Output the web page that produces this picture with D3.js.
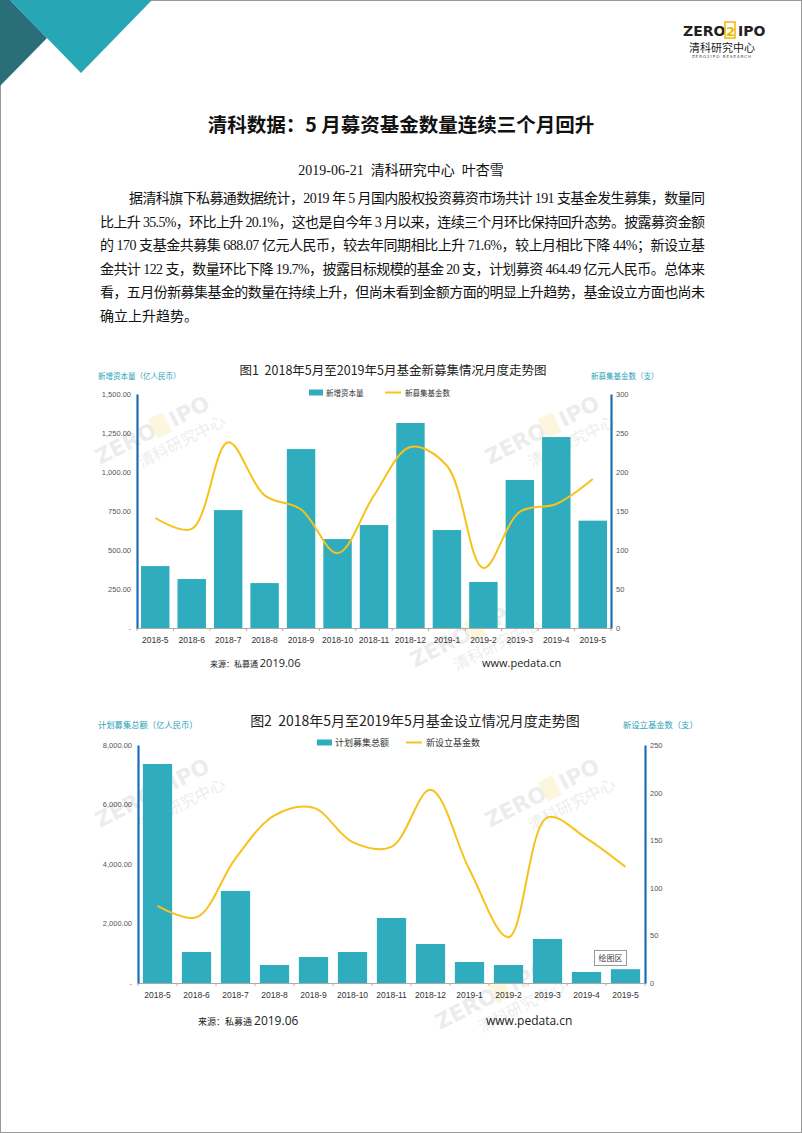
<!DOCTYPE html>
<html><head><meta charset="utf-8">
<script src="https://cdn.jsdelivr.net/npm/d3@7"></script>
<style>body{margin:0;background:#fff}svg{display:block}text{white-space:pre}</style>
</head><body><svg id="c" width="802" height="1133"></svg>
<script>
const months = ["2018-5","2018-6","2018-7","2018-8","2018-9","2018-10","2018-11","2018-12","2019-1","2019-2","2019-3","2019-4","2019-5"];
// Chart 1
const newCapital = [397,314,756,288,1147,570,660,1314,628,295,949,1224,688.07];
const newFundsRaising = [141,127,238,170,152,96,170,232,208,77,149,159,191];
const c1LeftTicks = [0,250,500,750,1000,1250,1500];
const c1RightTicks = [0,50,100,150,200,250,300];
// Chart 2
const plannedTotal = [7361,1042,3092,605,874,1042,2185,1311,706,605,1479,370,464.49];
const newFundsSetup = [81,69,131,176,184,148,143,203,119,48,174,152,122];
const c2LeftTicks = [0,2000,4000,6000,8000];
const c2RightTicks = [0,50,100,150,200,250];
const paragraph = [
 "据清科旗下私募通数据统计，2019 年 5 月国内股权投资募资市场共计 191 支基金发生募集，数量同",
 "比上升 35.5%，环比上升 20.1%，这也是自今年 3 月以来，连续三个月环比保持回升态势。披露募资金额",
 "的 170 支基金共募集 688.07 亿元人民币，较去年同期相比上升 71.6%，较上月相比下降 44%；新设立基",
 "金共计 122 支，数量环比下降 19.7%，披露目标规模的基金 20 支，计划募资 464.49 亿元人民币。总体来",
 "看，五月份新募集基金的数量在持续上升，但尚未看到金额方面的明显上升趋势，基金设立方面也尚未",
 "确立上升趋势。"
];

const svg = d3.select("#c");
const CJK = "'Noto Sans CJK SC','Noto Sans',sans-serif";
const SERIF = "'Liberation Serif','Noto Sans CJK SC',serif";
const TEAL = "#2fadbe", YEL = "#f7c21a", AXB = "#1d6db5", LBL = "#2aa3b6";

svg.append("rect").attr("x",0.5).attr("y",0.5).attr("width",801).attr("height",1132).attr("fill","none").attr("stroke","#999");
svg.append("polygon").attr("points","0,0 10,0 47,38 0,86").attr("fill","#2a6e7a");
svg.append("polygon").attr("points","10,0 152,0 81,73").attr("fill","#27a7b5");

// logo
const logo = svg.append("g").attr("font-family","'DejaVu Sans',sans-serif");
logo.append("text").attr("x",683).attr("y",36).attr("font-size",14).attr("font-weight","bold").attr("fill","#222").text("ZERO");
logo.append("rect").attr("x",725).attr("y",22).attr("width",10).attr("height",16).attr("fill","none").attr("stroke","#f0b800").attr("stroke-width",1.5);
logo.append("text").attr("x",726).attr("y",35.5).attr("font-size",13).attr("font-weight","bold").attr("fill","#f0b800").text("2");
logo.append("text").attr("x",738).attr("y",36).attr("font-size",14).attr("font-weight","bold").attr("fill","#222").text("IPO");
logo.append("text").attr("x",722).attr("y",52).attr("text-anchor","middle").attr("font-size",11).attr("font-family",CJK).attr("fill","#222").text("清科研究中心");
logo.append("text").attr("x",722).attr("y",58).attr("text-anchor","middle").attr("font-size",4).attr("letter-spacing",1).attr("fill","#444").text("ZERO2IPO RESEARCH");

svg.append("text").attr("x",401).attr("y",132).attr("text-anchor","middle").attr("font-family",CJK).attr("font-weight","bold").attr("font-size",19.5).attr("fill","#111").text("清科数据：5 月募资基金数量连续三个月回升");
svg.append("text").attr("x",401).attr("y",175).attr("text-anchor","middle").attr("font-family",SERIF).attr("font-size",14).attr("fill","#111").text("2019-06-21  清科研究中心  叶杏雪");

paragraph.forEach((s,i)=>{
  const t = svg.append("text").attr("x", i===0?129:100).attr("y",203+i*23.6).attr("font-family",SERIF).attr("font-size",14).attr("fill","#111").text(s);
  if(i<paragraph.length-1){ t.attr("textLength", i===0?576:605).attr("lengthAdjust","spacing"); }
});

// faint watermarks
function watermark(x,y){
  const g = svg.append("g").attr("transform",`translate(${x},${y}) rotate(-27) scale(0.72)`).attr("opacity",0.13);
  g.append("text").attr("x",0).attr("y",0).attr("font-family","'DejaVu Sans',sans-serif").attr("font-size",30).attr("font-weight","bold").attr("fill","#777").text("ZERO");
  g.append("rect").attr("x",88).attr("y",-26).attr("width",22).attr("height",30).attr("fill","#f0c000");
  g.append("text").attr("x",115).attr("y",0).attr("font-family","'DejaVu Sans',sans-serif").attr("font-size",30).attr("font-weight","bold").attr("fill","#777").text("IPO");
  g.append("text").attr("x",50).attr("y",30).attr("font-family",CJK).attr("font-size",22).attr("fill","#777").text("清科研究中心");
}
[[100,465],[490,465],[415,668],[100,828],[490,828],[440,1030]].forEach(d=>watermark(d[0],d[1]));

function drawChart(o){
  const g = svg.append("g");
  const x = d3.scaleBand().domain(months).range([o.x0,o.x1]).paddingInner(o.pad).paddingOuter(o.pad/2);
  const yl = d3.scaleLinear().domain([0,o.lmax]).range([o.y1,o.y0]);
  const yr = d3.scaleLinear().domain([0,o.rmax]).range([o.y1,o.y0]);
  g.append("text").attr("x",o.tx).attr("y",o.ty).attr("text-anchor","middle").attr("font-family",CJK).attr("font-size",o.tfs).attr("fill","#222").text(o.title);
  g.append("text").attr("x",o.lx).attr("y",o.ly).attr("font-family",CJK).attr("font-size",o.afs).attr("fill",LBL).text(o.ltitle);
  g.append("text").attr("x",o.rx).attr("y",o.ly).attr("font-family",CJK).attr("font-size",o.afs).attr("fill",LBL).text(o.rtitle);
  // legend
  g.append("rect").attr("x",o.leg[0]).attr("y",o.legy-3.5).attr("width",o.leg[1]-o.leg[0]).attr("height",6).attr("fill",TEAL);
  g.append("text").attr("x",o.leg[2]).attr("y",o.legy+3).attr("font-family",CJK).attr("font-size",o.lfs).attr("fill","#333").text(o.n1);
  g.append("line").attr("x1",o.leg[3]).attr("x2",o.leg[4]).attr("y1",o.legy-0.5).attr("y2",o.legy-0.5).attr("stroke",YEL).attr("stroke-width",2);
  g.append("text").attr("x",o.leg[5]).attr("y",o.legy+3).attr("font-family",CJK).attr("font-size",o.lfs).attr("fill","#333").text(o.n2);
  // bars
  g.selectAll(".bar").data(months).join("rect")
    .attr("x",d=>x(d)).attr("width",x.bandwidth())
    .attr("y",(d,i)=>yl(o.bars[i])).attr("height",(d,i)=>o.y1-yl(o.bars[i])).attr("fill",TEAL);
  const line = d3.line().x((d,i)=>x(months[i])+x.bandwidth()/2).y(d=>yr(d)).curve(d3.curveCatmullRom.alpha(0.5));
  g.append("path").attr("d",line(o.line)).attr("fill","none").attr("stroke",YEL).attr("stroke-width",2);
  // x axis
  const xa = g.append("g").attr("transform",`translate(0,${o.y1})`).call(d3.axisBottom(x).tickSize(0).tickPadding(9));
  xa.select(".domain").attr("stroke","#aaa");
  xa.selectAll("text").attr("font-family","'Liberation Sans',Arial,sans-serif").attr("font-size",8.5).attr("fill","#333");
  const step = x.step();
  d3.range(months.length+1).forEach(i=>{
    const xx = o.x0 + i*step;
    g.append("line").attr("x1",xx).attr("x2",xx).attr("y1",o.y1).attr("y2",o.y1+3).attr("stroke",o.tickc);
  });
  const la = g.append("g").attr("transform",`translate(${o.x0},0)`).call(d3.axisLeft(yl).tickValues(o.lticks).tickSize(0).tickPadding(6).tickFormat(d=>d===0?"-":d3.format(",.2f")(d)));
  la.select(".domain").attr("stroke",AXB).attr("stroke-width",2.2);
  la.selectAll("text").attr("font-family","'Liberation Sans',Arial,sans-serif").attr("font-size",7.5).attr("fill",d=>d===0?"#c55":"#555");
  const ra = g.append("g").attr("transform",`translate(${o.x1},0)`).call(d3.axisRight(yr).tickValues(o.rticks).tickSize(0).tickPadding(5));
  ra.select(".domain").attr("stroke",AXB).attr("stroke-width",2.2);
  ra.selectAll("text").attr("font-family","'Liberation Sans',Arial,sans-serif").attr("font-size",7.5).attr("fill","#555");
  // source
  const s = g.append("text").attr("x",o.srcx).attr("y",o.srcy).attr("font-family",CJK).attr("fill","#222");
  s.append("tspan").attr("font-size",o.sfs[0]).text("来源：私募通 ");
  s.append("tspan").attr("font-size",o.sfs[1]).attr("font-family","'Open Sans','Liberation Sans',sans-serif").text("2019.06");
  g.append("text").attr("x",o.webx).attr("y",o.srcy).attr("font-family","'Open Sans','Liberation Sans',sans-serif").attr("font-size",o.sfs[1]).attr("fill","#222").text("www.pedata.cn");
}

drawChart({x0:137,x1:611,y0:394,y1:628,pad:0.22,lmax:1500,rmax:300,lticks:c1LeftTicks,rticks:c1RightTicks,
  bars:newCapital,line:newFundsRaising,tickc:"#aaa",
  title:"图1  2018年5月至2019年5月基金新募集情况月度走势图",tx:393,ty:375,tfs:12.5,
  ltitle:"新增资本量（亿人民币）",lx:98,ly:379,rtitle:"新募集基金数（支）",rx:591,afs:7.5,
  leg:[309,323,326,385,401,405],legy:393,lfs:7.5,n1:"新增资本量",n2:"新募集基金数",
  srcx:210,srcy:667,webx:482,sfs:[8,11]});

drawChart({x0:138,x1:645,y0:745,y1:983,pad:0.25,lmax:8000,rmax:250,lticks:c2LeftTicks,rticks:c2RightTicks,
  bars:plannedTotal,line:newFundsSetup,tickc:"#e0a0a0",
  title:"图2  2018年5月至2019年5月基金设立情况月度走势图",tx:415,ty:726,tfs:14,
  ltitle:"计划募集总额（亿人民币）",lx:98,ly:728,rtitle:"新设立基金数（支）",rx:623,afs:8.3,
  leg:[317,332,335,406,422,426],legy:743,lfs:9,n1:"计划募集总额",n2:"新设立基金数",
  srcx:198,srcy:1025,webx:486,sfs:[9,12]});

svg.append("rect").attr("x",594.5).attr("y",950.5).attr("width",32).attr("height",15).attr("fill","#fff").attr("stroke","#999");
svg.append("text").attr("x",610.5).attr("y",961).attr("text-anchor","middle").attr("font-family",CJK).attr("font-size",8).attr("fill","#444").text("绘图区");
</script></body></html>
